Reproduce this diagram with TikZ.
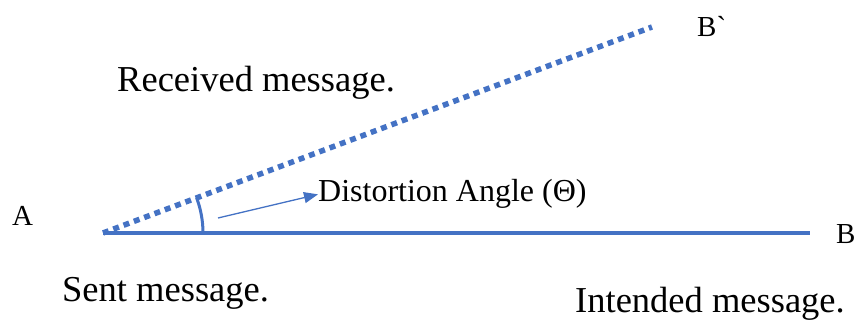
\documentclass[tikz,border=0pt]{standalone}
\usepackage{fontspec}
\setmainfont{Liberation Serif}
% same face without the TeX quote mapping, so ` stays a grave mark
\newfontfamily\plainserif{Liberation Serif}
\usetikzlibrary{arrows.meta}
\definecolor{lineblue}{HTML}{4472C4}
\begin{document}
\begin{tikzpicture}[x=1pt,y=-1pt,
  big/.style={inner sep=0pt,anchor=base west,font=\fontsize{36.5}{40}\selectfont},
  letter/.style={inner sep=0pt,anchor=base west,font=\fontsize{29}{32}\selectfont},
  mid/.style={inner sep=0pt,anchor=base west,font=\fontsize{32}{35}\selectfont}]
\useasboundingbox (0,0) rectangle (857,320);
% vertices of the angle
\coordinate (A) at (103,233);
\coordinate (B) at (810,233);
\coordinate (Bp) at (652,27);
% sent message (solid) and received message (dotted)
\draw[lineblue,line width=4pt] (A) -- (B);
\draw[lineblue,line width=5.5pt,dash pattern=on 6pt off 5pt] (A) -- (Bp);
% angle marker
\draw[lineblue,line width=3pt] (A) ++(0:100) arc[start angle=0,end angle=-20.6,radius=100];
% labels
\node[letter] (la) at (12,226) {A};
\node[letter] (lb) at (836,244) {B};
\node[letter] (lbp) at (697,37) {\plainserif B`};
\node[big] (recv) at (117,92) {Received message.};
\node[big] (sent) at (62,302) {Sent message.};
\node[big] (intd) at (575,313) {Intended message.};
\node[mid] (dist) at (318,202) {Distortion Angle (Θ)};
\coordinate (tail) at (218,218);
\draw[lineblue,line width=1.3pt,-{Triangle[length=14pt,width=11pt]}] (tail) -- (dist.west);
\end{tikzpicture}
\end{document}
